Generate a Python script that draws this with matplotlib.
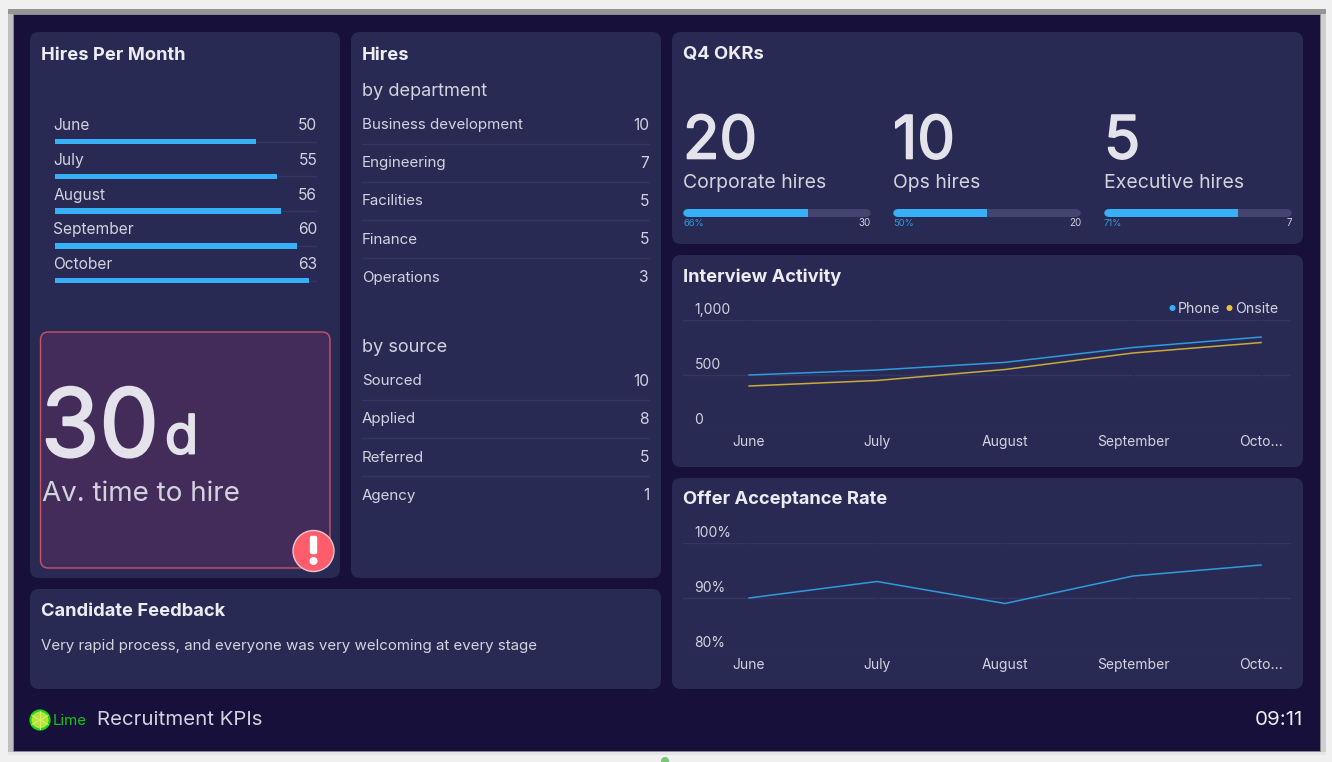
import matplotlib
matplotlib.use("Agg")
import matplotlib.pyplot as plt
import matplotlib.patheffects as pe
import matplotlib.transforms as mtransforms
from matplotlib.patches import FancyBboxPatch, Circle, Rectangle

W, H = 1332, 762
plt.rcParams['font.family'] = ['Inter', 'DejaVu Sans']

# data
months = ['June', 'July', 'August', 'September', 'October']
month_ticks = ['June', 'July', 'August', 'September', 'Octo...']
hires_per_month = [50, 55, 56, 60, 63]

dept_names = ['Business development', 'Engineering', 'Facilities', 'Finance', 'Operations']
dept_hires = [10, 7, 5, 5, 3]
source_names = ['Sourced', 'Applied', 'Referred', 'Agency']
source_hires = [10, 8, 5, 1]

okr_names = ['Corporate hires', 'Ops hires', 'Executive hires']
okr_actual = [20, 10, 5]
okr_target = [30, 20, 7]

phone = [500, 545, 615, 750, 845]
onsite = [400, 450, 550, 700, 795]
offer_rate = [90, 93, 89, 94, 96]

# colours
NAVY = '#16103b'
CARD = '#292a54'
WHITE = '#ecebf1'
SOFT = '#d3d3df'
BLUE = '#38b0f8'
YELLOW = '#e8c33f'
GRID = '#343562'

fig = plt.figure(figsize=(W / 100, H / 100), dpi=100, facecolor='#f0f0f0')

# full size axes working in image pixels, for the panels and text
bg = fig.add_axes([0, 0, 1, 1])
bg.set_xlim(0, W)
bg.set_ylim(H, 0)
bg.axis('off')


def card(x0, y0, x1, y1, color=CARD, edge='none', r=9, lw=1):
    bg.add_patch(FancyBboxPatch((x0 + r, y0 + r), x1 - x0 - 2 * r, y1 - y0 - 2 * r,
                                boxstyle='round,pad=%d,rounding_size=%d' % (r, r),
                                fc=color, ec=edge, lw=lw))


def px_axes(x0, y0, x1, y1):
    ax = fig.add_axes([x0 / W, 1 - y1 / H, (x1 - x0) / W, (y1 - y0) / H])
    ax.patch.set_alpha(0)
    for s in ax.spines.values():
        s.set_visible(False)
    return ax


def label(x, y, s, size, color=SOFT, weight='normal', ha='left', va='center', stroke=0):
    t = bg.text(x, y + 1, s, fontsize=size, color=color, fontweight=weight, ha=ha, va=va)
    if stroke:
        # no medium weight installed, thicken the regular one
        t.set_path_effects([pe.withStroke(linewidth=stroke, foreground=color)])
    return t


# screen frame
bg.add_patch(Rectangle((8, 9), 1318, 746, fc='#e6e6e6', ec='none'))
bg.add_patch(Rectangle((8, 9), 5, 743, fc='#c0c0c0', ec='none'))
bg.add_patch(Rectangle((1320, 9), 6, 743, fc='#cfcfcf', ec='none'))
bg.add_patch(Rectangle((8, 9), 1318, 5, fc='#959595', ec='none'))
bg.add_patch(Rectangle((13, 14), 1307, 737, fc=NAVY, ec='#8d8d8d', lw=0.6))
bg.add_patch(Circle((665, 761), 4, fc='#7cc576', ec='none'))

card(30, 32, 340, 578)
card(351, 32, 661, 578)
card(672, 32, 1303, 244)
card(672, 255, 1303, 467)
card(672, 478, 1303, 689)
card(30, 589, 661, 689)

# titles
TITLE = 13.2
BODY = 10.9
label(41, 54, 'Hires Per Month', TITLE, WHITE, 'bold')
label(362, 54, 'Hires', TITLE, WHITE, 'bold')
label(683, 53, 'Q4 OKRs', TITLE, WHITE, 'bold')
label(683, 276, 'Interview Activity', TITLE, WHITE, 'bold')
label(683, 498, 'Offer Acceptance Rate', TITLE, WHITE, 'bold')
label(41, 610, 'Candidate Feedback', TITLE, WHITE, 'bold')
label(41, 645, 'Very rapid process, and everyone was very welcoming at every stage', 10.85)

# hires per month bars
ax = px_axes(54.5, 116, 317, 290)
ypos = list(range(len(months)))
ax.set_xlim(0, 65)
ax.set_ylim(4.267, -0.733)
ax.axis('off')
ax.hlines(ypos, 0, 65, color=GRID, lw=1, zorder=1)
ax.barh(ypos, hires_per_month, height=0.16, color=BLUE, zorder=2)
for i, m in enumerate(months):
    ax.annotate(m, (0, i), xytext=(-1, 16), textcoords='offset pixels', fontsize=11.2,
                color=SOFT, va='center', ha='left')
    ax.annotate(str(hires_per_month[i]), (65, i), xytext=(0, 16), textcoords='offset pixels',
                fontsize=11.2, color=SOFT, va='center', ha='right')

# time to hire
card(40.5, 332, 330, 568, color='#432c5a', edge='#c9526b', r=8, lw=1)
label(41, 431, '30', 68, '#e4e2ea', stroke=1.6)
label(165, 438, 'd', 39, '#e4e2ea', stroke=1.4)
label(42, 493, 'Av. time to hire', 20, SOFT)
bg.add_patch(Circle((313.5, 551), 20.5, fc='#ff5c6c', ec='#e9c6cf', lw=1, zorder=5))
bg.add_patch(FancyBboxPatch((311, 537), 5, 16, boxstyle='round,pad=1.2,rounding_size=2',
                            fc='white', ec='none', zorder=6))
bg.add_patch(Circle((313.5, 561), 4, fc='white', ec='none', zorder=6))

# hires lists
label(362, 90, 'by department', 13.1)
for i, (n, v) in enumerate(zip(dept_names, dept_hires)):
    y = 124 + i * 38.2
    label(362, y, n, BODY)
    label(649, y, str(v), 11.2, ha='right')
    if i < len(dept_names) - 1:
        bg.plot([362, 649], [y + 19.5, y + 19.5], color=GRID, lw=1)
label(362, 346, 'by source', 13.1)
for i, (n, v) in enumerate(zip(source_names, source_hires)):
    y = 380 + i * 38.3
    label(362, y, n, BODY)
    label(649, y, str(v), 11.2, ha='right')
    if i < len(source_names) - 1:
        bg.plot([362, 649], [y + 19.5, y + 19.5], color=GRID, lw=1)

# Q4 OKR tiles
okr_x = [683, 893, 1104]
for x, n, a, t in zip(okr_x, okr_names, okr_actual, okr_target):
    label(x, 142, str(a), 43, '#e4e2ea', stroke=1.2)
    label(x, 182, n, 14)
    ax = px_axes(x, 209, x + 188, 217)
    ax.set_xlim(0, t)
    ax.set_ylim(0, 1)
    ax.axis('off')
    clip = FancyBboxPatch((0, 0), 1, 1, boxstyle='round,pad=0,rounding_size=0.03',
                          transform=ax.transAxes, fc='none', ec='none', mutation_aspect=23)
    ax.add_patch(clip)
    back = ax.barh(0.5, t, height=1, color='#43446f')
    front = ax.barh(0.5, a, height=1, color=BLUE)
    for b in list(back) + list(front):
        b.set_clip_path(clip)
    label(x, 222, '%d%%' % (100 * a / t), 6.8, '#2f9bdc')
    label(x + 188, 222, str(t), 7, SOFT, ha='right')


# line charts
def line_axes(y0, y1, ylim, yticks, ylabels):
    ax = px_axes(683, y0, 1291, y1)
    ax.set_xlim(-0.516, 4.234)
    ax.set_ylim(*ylim)
    ax.set_xticks(range(len(month_ticks)), month_ticks)
    ax.set_yticks(yticks, ylabels)
    ax.tick_params(axis='x', length=0, pad=3.5, labelsize=10, labelcolor=SOFT)
    ax.tick_params(axis='y', length=0, pad=-8.2, labelsize=10, labelcolor=SOFT)
    off = mtransforms.ScaledTranslation(0, 2.2 / 72, fig.dpi_scale_trans)
    for t in ax.get_yticklabels():
        t.set_ha('left')
        t.set_va('bottom')
        t.set_transform(t.get_transform() + off)
    ax.grid(axis='y', color=GRID, lw=1, zorder=1)
    ax.set_axisbelow(True)
    ax.vlines(range(len(month_ticks)), *ylim, color=CARD, lw=1, zorder=1.5)
    return ax


ax = line_axes(320, 430, (0, 1000), [0, 500, 1000], ['0', '500', '1,000'])
ax.plot(range(5), phone, color='#2f9bdc', lw=1.1, zorder=3)
ax.plot(range(5), onsite, color='#c9aa3a', lw=1.1, zorder=3)
bg.add_patch(Circle((1172.5, 308), 3, fc=BLUE, ec='none'))
label(1178, 308, 'Phone', 10.2)
bg.add_patch(Circle((1229.5, 308), 3, fc=YELLOW, ec='none'))
label(1235, 308, 'Onsite', 10.2)

ax = line_axes(543, 653, (80, 100), [80, 90, 100], ['80%', '90%', '100%'])
ax.plot(range(5), offer_rate, color='#2f9bdc', lw=1.1, zorder=3)

# footer
bg.add_patch(Circle((40, 720), 9.5, fc='#b6e62e', ec='#22d41c', lw=1.6))
for a, b in [((40, 711), (40, 729)), ((32, 715.5), (48, 724.5)), ((32, 724.5), (48, 715.5))]:
    bg.plot([a[0], b[0]], [a[1], b[1]], color='#d5ee80', lw=0.7)
label(53, 720, 'Lime', 10.8, '#12c712')
label(97, 719, 'Recruitment KPIs', 14.7)
label(1303, 719, '09:11', 14.8, WHITE, ha='right')

fig.savefig('out.png', dpi=100, facecolor=fig.get_facecolor())
